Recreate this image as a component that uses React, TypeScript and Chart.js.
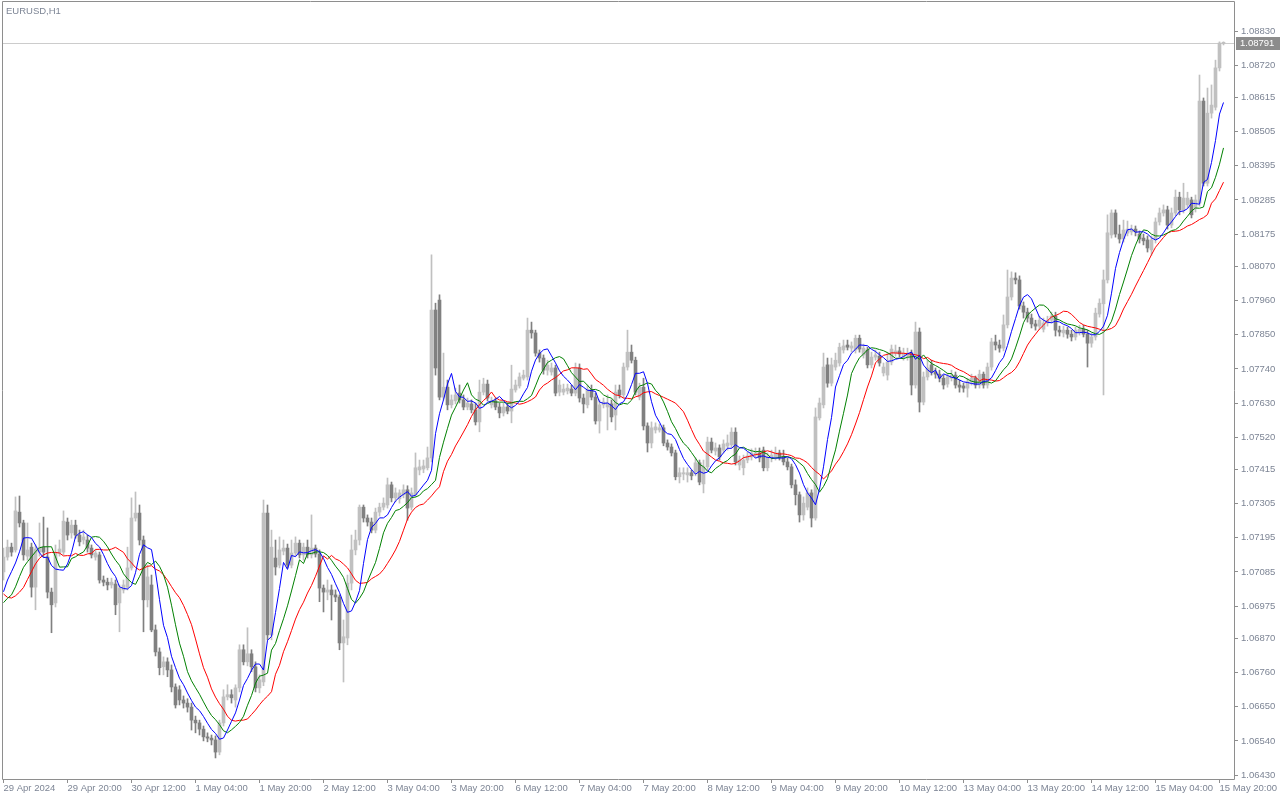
import React, { useEffect, useRef } from "react";
import { Chart, registerables } from "chart.js";

Chart.register(...registerables);

// ---- EURUSD H1 candles (29 Apr 2024 04:00 .. 15 May 2024 21:00) ----
const OPEN = [
  1.07085,1.07133,1.07165,1.07156,1.07278,1.07243,1.07136,1.07165,1.07036,1.07149,
  1.07165,1.07133,1.07020,1.06985,1.07146,1.07149,1.07246,1.07211,1.07236,1.07204,
  1.07188,1.07188,1.07162,1.07133,1.07140,1.07059,1.07052,1.07043,1.07046,1.06985,
  1.07027,1.07036,1.07098,1.07259,1.07275,1.07188,1.06995,1.07043,1.06898,1.06827,
  1.06779,1.06795,1.06769,1.06714,1.06705,1.06672,1.06662,1.06649,1.06607,1.06598,
  1.06578,1.06553,1.06549,1.06543,1.06504,1.06598,1.06682,1.06689,1.06672,1.06711,
  1.06834,1.06795,1.06821,1.06779,1.06711,1.06730,1.07275,1.06882,1.07130,1.07107,
  1.07152,1.07162,1.07107,1.07146,1.07178,1.07140,1.07165,1.07140,1.07162,1.07143,
  1.07033,1.07020,1.07027,1.07011,1.07004,1.06856,1.06872,1.07049,1.07156,1.07188,
  1.07294,1.07259,1.07246,1.07220,1.07278,1.07294,1.07301,1.07366,1.07324,1.07321,
  1.07334,1.07350,1.07294,1.07334,1.07414,1.07417,1.07421,1.07453,1.07930,1.07962,
  1.07649,1.07681,1.07624,1.07637,1.07662,1.07640,1.07617,1.07627,1.07608,1.07569,
  1.07665,1.07691,1.07624,1.07637,1.07617,1.07598,1.07617,1.07604,1.07672,1.07685,
  1.07710,1.07714,1.07865,1.07856,1.07791,1.07775,1.07736,1.07730,1.07743,1.07665,
  1.07665,1.07669,1.07675,1.07662,1.07743,1.07646,1.07624,1.07672,1.07649,1.07572,
  1.07624,1.07617,1.07627,1.07591,1.07672,1.07656,1.07746,1.07794,1.07768,1.07649,
  1.07681,1.07556,1.07501,1.07543,1.07543,1.07550,1.07501,1.07488,1.07469,1.07392,
  1.07401,1.07398,1.07405,1.07408,1.07437,1.07369,1.07424,1.07504,1.07475,1.07485,
  1.07478,1.07491,1.07495,1.07536,1.07430,1.07421,1.07446,1.07456,1.07462,1.07469,
  1.07478,1.07421,1.07453,1.07456,1.07469,1.07456,1.07440,1.07424,1.07366,1.07334,
  1.07269,1.07294,1.07340,1.07259,1.07582,1.07624,1.07753,1.07694,1.07746,1.07759,
  1.07801,1.07817,1.07807,1.07801,1.07839,1.07785,1.07801,1.07753,1.07778,1.07781,
  1.07727,1.07720,1.07762,1.07791,1.07798,1.07778,1.07781,1.07791,1.07688,1.07859,
  1.07633,1.07714,1.07753,1.07730,1.07723,1.07710,1.07691,1.07710,1.07720,1.07688,
  1.07685,1.07678,1.07698,1.07710,1.07688,1.07723,1.07688,1.07746,1.07827,1.07817,
  1.07807,1.07882,1.07972,1.08033,1.08027,1.07943,1.07923,1.07904,1.07885,1.07878,
  1.07868,1.07888,1.07897,1.07910,1.07865,1.07856,1.07865,1.07852,1.07843,1.07859,
  1.07868,1.07852,1.07823,1.07843,1.07917,1.07950,1.08027,1.08172,1.08243,1.08175,
  1.08159,1.08178,1.08182,1.08191,1.08175,1.08162,1.08156,1.08124,1.08156,1.08214,
  1.08243,1.08253,1.08204,1.08243,1.08294,1.08253,1.08269,1.08285,1.08259,1.08275,
  1.08604,1.08339,1.08565,1.08584,1.08711,1.08790
];
const HIGH = [
  1.07162,1.07188,1.07178,1.07327,1.07330,1.07252,1.07243,1.07178,1.07172,1.07243,
  1.07262,1.07227,1.07033,1.07172,1.07188,1.07282,1.07259,1.07252,1.07252,1.07220,
  1.07220,1.07204,1.07172,1.07156,1.07149,1.07072,1.07065,1.07065,1.07059,1.07043,
  1.07059,1.07165,1.07324,1.07343,1.07301,1.07201,1.07107,1.07075,1.06914,1.06840,
  1.06811,1.06808,1.06785,1.06724,1.06718,1.06685,1.06676,1.06662,1.06620,1.06607,
  1.06588,1.06566,1.06559,1.06556,1.06607,1.06705,1.06721,1.06705,1.06721,1.06850,
  1.06850,1.06905,1.06834,1.06795,1.06753,1.07317,1.07301,1.07220,1.07188,1.07198,
  1.07188,1.07175,1.07188,1.07198,1.07188,1.07178,1.07188,1.07269,1.07172,1.07156,
  1.07043,1.07059,1.07043,1.07027,1.07011,1.06930,1.07075,1.07204,1.07220,1.07301,
  1.07301,1.07269,1.07259,1.07291,1.07307,1.07324,1.07388,1.07375,1.07356,1.07350,
  1.07366,1.07363,1.07356,1.07469,1.07446,1.07446,1.07488,1.08108,1.07952,1.07979,
  1.07791,1.07704,1.07656,1.07678,1.07688,1.07656,1.07646,1.07640,1.07630,1.07704,
  1.07710,1.07704,1.07649,1.07646,1.07630,1.07630,1.07630,1.07752,1.07704,1.07727,
  1.07736,1.07904,1.07891,1.07865,1.07801,1.07785,1.07768,1.07759,1.07752,1.07704,
  1.07691,1.07691,1.07688,1.07759,1.07756,1.07659,1.07688,1.07688,1.07662,1.07640,
  1.07646,1.07656,1.07640,1.07688,1.07688,1.07759,1.07865,1.07817,1.07778,1.07694,
  1.07710,1.07566,1.07569,1.07566,1.07562,1.07559,1.07511,1.07498,1.07478,1.07421,
  1.07421,1.07421,1.07414,1.07453,1.07446,1.07446,1.07520,1.07517,1.07501,1.07495,
  1.07511,1.07527,1.07550,1.07550,1.07459,1.07462,1.07472,1.07482,1.07485,1.07485,
  1.07488,1.07469,1.07478,1.07488,1.07478,1.07478,1.07453,1.07433,1.07382,1.07343,
  1.07327,1.07356,1.07350,1.07614,1.07646,1.07791,1.07775,1.07775,1.07791,1.07823,
  1.07833,1.07833,1.07827,1.07849,1.07849,1.07820,1.07810,1.07794,1.07801,1.07794,
  1.07759,1.07794,1.07817,1.07817,1.07810,1.07807,1.07807,1.07801,1.07891,1.07872,
  1.07730,1.07768,1.07768,1.07743,1.07736,1.07720,1.07727,1.07736,1.07730,1.07704,
  1.07694,1.07710,1.07723,1.07717,1.07736,1.07730,1.07759,1.07839,1.07849,1.07833,
  1.07914,1.08059,1.08053,1.08050,1.08040,1.07956,1.07936,1.07917,1.07897,1.07910,
  1.07904,1.07910,1.07923,1.07923,1.07878,1.07878,1.07875,1.07865,1.07875,1.07881,
  1.07881,1.07865,1.07856,1.07936,1.07966,1.08059,1.08237,1.08253,1.08253,1.08204,
  1.08220,1.08217,1.08204,1.08201,1.08185,1.08175,1.08169,1.08169,1.08227,1.08259,
  1.08269,1.08265,1.08259,1.08317,1.08310,1.08339,1.08310,1.08294,1.08301,1.08688,
  1.08614,1.08646,1.08656,1.08736,1.08795,1.08795
];
const LOW = [
  1.07059,1.07123,1.07136,1.07149,1.07230,1.07123,1.07123,1.07004,1.06963,1.07136,
  1.07133,1.07001,1.06889,1.06972,1.07136,1.07140,1.07188,1.07194,1.07194,1.07169,
  1.07175,1.07149,1.07130,1.07123,1.07049,1.07040,1.07027,1.07033,1.06947,1.06892,
  1.07017,1.07027,1.07091,1.07249,1.07172,1.06892,1.06972,1.06892,1.06814,1.06753,
  1.06753,1.06747,1.06698,1.06646,1.06656,1.06646,1.06633,1.06575,1.06566,1.06559,
  1.06540,1.06537,1.06527,1.06485,1.06495,1.06588,1.06672,1.06662,1.06649,1.06698,
  1.06785,1.06782,1.06763,1.06698,1.06695,1.06718,1.06866,1.06866,1.07075,1.07098,
  1.07140,1.07098,1.07098,1.07136,1.07130,1.07123,1.07130,1.07130,1.07133,1.06989,
  1.06956,1.06995,1.06930,1.06989,1.06834,1.06730,1.06850,1.07027,1.07140,1.07172,
  1.07246,1.07233,1.07211,1.07211,1.07265,1.07285,1.07291,1.07311,1.07311,1.07307,
  1.07324,1.07252,1.07285,1.07327,1.07398,1.07405,1.07414,1.07440,1.07720,1.07640,
  1.07640,1.07608,1.07614,1.07627,1.07630,1.07608,1.07608,1.07598,1.07559,1.07537,
  1.07656,1.07637,1.07614,1.07608,1.07582,1.07588,1.07595,1.07566,1.07665,1.07678,
  1.07704,1.07704,1.07839,1.07781,1.07762,1.07723,1.07720,1.07720,1.07653,1.07653,
  1.07656,1.07659,1.07653,1.07653,1.07633,1.07598,1.07614,1.07640,1.07562,1.07533,
  1.07614,1.07543,1.07569,1.07543,1.07646,1.07646,1.07736,1.07759,1.07656,1.07640,
  1.07543,1.07472,1.07485,1.07533,1.07536,1.07492,1.07478,1.07459,1.07382,1.07372,
  1.07382,1.07375,1.07382,1.07395,1.07366,1.07340,1.07414,1.07469,1.07462,1.07446,
  1.07469,1.07478,1.07485,1.07430,1.07414,1.07398,1.07437,1.07446,1.07453,1.07440,
  1.07411,1.07411,1.07440,1.07446,1.07446,1.07430,1.07414,1.07356,1.07301,1.07246,
  1.07252,1.07285,1.07230,1.07252,1.07575,1.07614,1.07681,1.07685,1.07736,1.07749,
  1.07791,1.07801,1.07794,1.07791,1.07794,1.07775,1.07743,1.07743,1.07768,1.07749,
  1.07717,1.07704,1.07753,1.07781,1.07778,1.07768,1.07768,1.07656,1.07678,1.07601,
  1.07624,1.07704,1.07720,1.07710,1.07698,1.07675,1.07681,1.07701,1.07678,1.07665,
  1.07665,1.07649,1.07688,1.07678,1.07678,1.07678,1.07678,1.07736,1.07801,1.07794,
  1.07798,1.07872,1.07962,1.08014,1.07933,1.07904,1.07891,1.07872,1.07865,1.07868,
  1.07859,1.07878,1.07888,1.07846,1.07846,1.07843,1.07839,1.07830,1.07833,1.07849,
  1.07843,1.07746,1.07810,1.07833,1.07907,1.07656,1.08017,1.08162,1.08165,1.08146,
  1.08149,1.08169,1.08172,1.08169,1.08146,1.08140,1.08117,1.08107,1.08146,1.08204,
  1.08233,1.08191,1.08195,1.08233,1.08237,1.08243,1.08259,1.08227,1.08246,1.08265,
  1.08330,1.08330,1.08549,1.08575,1.08701,1.08785
];
const CLOSE = [
  1.07133,1.07165,1.07149,1.07282,1.07243,1.07140,1.07156,1.07036,1.07159,1.07165,
  1.07149,1.07020,1.06979,1.07146,1.07159,1.07249,1.07204,1.07236,1.07204,1.07182,
  1.07198,1.07162,1.07140,1.07146,1.07059,1.07052,1.07043,1.07052,1.06979,1.07033,
  1.07043,1.07098,1.07259,1.07275,1.07188,1.06995,1.07069,1.06898,1.06827,1.06776,
  1.06795,1.06769,1.06714,1.06656,1.06672,1.06662,1.06649,1.06607,1.06598,1.06578,
  1.06553,1.06549,1.06543,1.06504,1.06598,1.06682,1.06689,1.06679,1.06711,1.06834,
  1.06795,1.06821,1.06779,1.06711,1.06737,1.07275,1.06882,1.07165,1.07101,1.07156,
  1.07162,1.07107,1.07146,1.07178,1.07140,1.07165,1.07140,1.07162,1.07143,1.07033,
  1.07020,1.07027,1.07011,1.07004,1.06856,1.06876,1.07049,1.07156,1.07188,1.07294,
  1.07259,1.07246,1.07220,1.07278,1.07294,1.07307,1.07366,1.07324,1.07340,1.07340,
  1.07350,1.07291,1.07340,1.07421,1.07424,1.07427,1.07453,1.07930,1.07743,1.07649,
  1.07681,1.07624,1.07640,1.07656,1.07640,1.07617,1.07630,1.07608,1.07569,1.07665,
  1.07691,1.07646,1.07637,1.07617,1.07598,1.07617,1.07604,1.07675,1.07688,1.07714,
  1.07720,1.07865,1.07856,1.07791,1.07775,1.07736,1.07752,1.07743,1.07662,1.07688,
  1.07675,1.07678,1.07662,1.07743,1.07646,1.07627,1.07672,1.07649,1.07572,1.07624,
  1.07633,1.07630,1.07585,1.07665,1.07656,1.07746,1.07794,1.07768,1.07665,1.07681,
  1.07556,1.07501,1.07550,1.07553,1.07550,1.07501,1.07488,1.07469,1.07392,1.07405,
  1.07405,1.07405,1.07395,1.07437,1.07375,1.07424,1.07504,1.07478,1.07485,1.07456,
  1.07498,1.07501,1.07536,1.07440,1.07446,1.07446,1.07459,1.07469,1.07469,1.07453,
  1.07421,1.07456,1.07462,1.07469,1.07456,1.07440,1.07424,1.07366,1.07334,1.07269,
  1.07307,1.07340,1.07259,1.07585,1.07630,1.07746,1.07694,1.07753,1.07768,1.07810,
  1.07814,1.07810,1.07814,1.07839,1.07804,1.07807,1.07753,1.07778,1.07785,1.07759,
  1.07746,1.07762,1.07804,1.07798,1.07788,1.07791,1.07791,1.07688,1.07859,1.07633,
  1.07714,1.07743,1.07730,1.07723,1.07710,1.07688,1.07714,1.07720,1.07688,1.07681,
  1.07678,1.07698,1.07710,1.07688,1.07723,1.07688,1.07746,1.07827,1.07817,1.07807,
  1.07882,1.07972,1.08033,1.08027,1.07943,1.07923,1.07904,1.07885,1.07878,1.07897,
  1.07888,1.07897,1.07910,1.07865,1.07859,1.07865,1.07852,1.07843,1.07865,1.07868,
  1.07852,1.07823,1.07843,1.07920,1.07952,1.08027,1.08179,1.08243,1.08175,1.08159,
  1.08188,1.08191,1.08191,1.08182,1.08159,1.08153,1.08130,1.08156,1.08214,1.08243,
  1.08253,1.08204,1.08243,1.08294,1.08253,1.08291,1.08291,1.08237,1.08285,1.08604,
  1.08339,1.08565,1.08591,1.08711,1.08791,1.08791
];

// Moving-average lines: values at the left edge (history before the window)
const BLUE_HEAD = [1.07021, 1.07059, 1.07086, 1.07114, 1.0715];
const GREEN_HEAD = [1.06986, 1.07, 1.07011, 1.07037, 1.0707, 1.071, 1.07118, 1.07134, 1.0715];
const RED_HEAD = [1.07014, 1.07003, 1.07001, 1.07008, 1.0702, 1.07035, 1.07061, 1.07086, 1.07111, 1.07129, 1.0714, 1.07146, 1.07148, 1.07148, 1.07146];
const BLUE_PERIOD = 5, BLUE_SHIFT = 1;
const GREEN_PERIOD = 8, GREEN_SHIFT = 2;
const RED_PERIOD = 13, RED_SHIFT = 3;

const X_TICK_LABELS = [
  "29 Apr 2024", "29 Apr 20:00", "30 Apr 12:00", "1 May 04:00", "1 May 20:00",
  "2 May 12:00", "3 May 04:00", "3 May 20:00", "6 May 12:00", "7 May 04:00",
  "7 May 20:00", "8 May 12:00", "9 May 04:00", "9 May 20:00", "10 May 12:00",
  "13 May 04:00", "13 May 20:00", "14 May 12:00", "15 May 04:00", "15 May 20:00"
];
const X_TICK_STEP = 16;
const Y_TICKS = [
  1.0643, 1.0654, 1.0665, 1.0676, 1.0687, 1.06975, 1.07085, 1.07195, 1.07305, 1.07415,
  1.0752, 1.0763, 1.0774, 1.0785, 1.0796, 1.0807, 1.08175, 1.08285, 1.08395, 1.08505,
  1.08615, 1.0872, 1.0883
];
const LAST_PRICE = 1.08791;
const SYMBOL_TITLE = "EURUSD,H1";

// axis ranges
const X_MIN = -0.375, X_MAX = 307.625;
const Y_MIN = 1.064171, Y_MAX = 1.0892355;

const FONT = '"Liberation Sans", Arial, sans-serif';
const TEXT_COLOR = "#7d8595";
const AXIS_COLOR = "#8e8e8e";
const BULL = "#c0c0c0";
const BEAR = "#808080";

function movingAverage(closes: number[], period: number, shift: number, head: number[]) {
  return closes.map((_, k) => {
    if (k < head.length) return head[k];
    const end = k - shift;
    let s = 0;
    for (let j = end - period + 1; j <= end; j++) s += closes[j];
    return s / period;
  });
}

export default function App() {
  const ref = useRef<HTMLCanvasElement | null>(null);
  useEffect(() => {
    document.body.style.margin = "0";
    const canvas = ref.current!;
    const idx = CLOSE.map((_, i) => i);
    const colors = idx.map((i) => (CLOSE[i] >= OPEN[i] ? BULL : BEAR));
    const blue = movingAverage(CLOSE, BLUE_PERIOD, BLUE_SHIFT, BLUE_HEAD);
    const green = movingAverage(CLOSE, GREEN_PERIOD, GREEN_SHIFT, GREEN_HEAD);
    const red = movingAverage(CLOSE, RED_PERIOD, RED_SHIFT, RED_HEAD);
    const line = (vals: number[], color: string) => ({
      type: "line" as const,
      data: vals.map((v, i) => ({ x: i, y: v })),
      borderColor: color,
      borderWidth: 1,
      pointRadius: 0,
      tension: 0,
      fill: false,
    });

    const overlay = {
      id: "mt4overlay",
      beforeDatasetsDraw(chart: any) {
        const { ctx, chartArea: a, scales } = chart;
        const py = Math.round(scales.y.getPixelForValue(LAST_PRICE)) + 0.5;
        ctx.save();
        ctx.strokeStyle = "#cccccc";
        ctx.lineWidth = 1;
        ctx.beginPath();
        ctx.moveTo(a.left, py);
        ctx.lineTo(a.right, py);
        ctx.stroke();
        ctx.restore();
      },
      afterDraw(chart: any) {
        const { ctx, chartArea: a, scales } = chart;
        ctx.save();
        ctx.strokeStyle = AXIS_COLOR;
        ctx.lineWidth = 1;
        ctx.beginPath();
        ctx.moveTo(a.left + 0.5, a.bottom + 0.5);
        ctx.lineTo(a.left + 0.5, a.top - 0.5);
        ctx.lineTo(a.right + 0.5, a.top - 0.5);
        ctx.lineTo(a.right + 0.5, a.bottom + 0.5);
        ctx.lineTo(a.left + 0.5, a.bottom + 0.5);
        ctx.stroke();
        // last price box
        const py = Math.round(scales.y.getPixelForValue(LAST_PRICE));
        ctx.fillStyle = "#8c8c8c";
        ctx.fillRect(a.right + 2, py - 6, 44, 13);
        ctx.fillStyle = "#ffffff";
        ctx.font = `9.5px ${FONT}`;
        ctx.textBaseline = "middle";
        ctx.textAlign = "left";
        ctx.fillText(LAST_PRICE.toFixed(5), a.right + 6, py + 0.5);
        // symbol title
        ctx.fillStyle = TEXT_COLOR;
        ctx.font = `9.5px ${FONT}`;
        ctx.fillText(SYMBOL_TITLE, 6, 11.5);
        ctx.restore();
      },
    };

    const chart = new Chart(canvas, {
      type: "bar",
      data: {
        datasets: [
          line(blue, "#0000ff"),
          line(green, "#008000"),
          line(red, "#ff0000"),
          {
            type: "bar",
            data: idx.map((i) => ({ x: i, y: [OPEN[i], CLOSE[i]] })),
            backgroundColor: colors,
            barThickness: 3,
            grouped: false,
            minBarLength: 1,
            borderWidth: 0,
          } as any,
          {
            type: "bar",
            data: idx.map((i) => ({ x: i, y: [LOW[i], HIGH[i]] })),
            backgroundColor: colors,
            barThickness: 1,
            grouped: false,
            borderWidth: 0,
          } as any,
        ],
      },
      options: {
        animation: false,
        responsive: false,
        maintainAspectRatio: false,
        devicePixelRatio: 1,
        events: [],
        layout: { padding: { left: 2, top: 2, right: 0, bottom: 0 } },
        plugins: { legend: { display: false }, tooltip: { enabled: false } },
        scales: {
          x: {
            type: "linear",
            min: X_MIN,
            max: X_MAX,
            offset: false,
            bounds: "data",
            grid: { drawOnChartArea: false, drawTicks: true, tickLength: 4, color: AXIS_COLOR, offset: false },
            border: { display: false },
            ticks: {
              autoSkip: false,
              maxRotation: 0,
              minRotation: 0,
              align: "start",
              padding: 0,
              color: TEXT_COLOR,
              font: { family: FONT, size: 9.5 },
              callback: (v: any) => X_TICK_LABELS[Math.round(Number(v) / X_TICK_STEP)] ?? "",
            },
            afterBuildTicks: (s: any) => {
              s.ticks = X_TICK_LABELS.map((_, j) => ({ value: j * X_TICK_STEP }));
            },
            afterFit: (s: any) => {
              s.height = 21;
              s.paddingLeft = 0;
              s.paddingRight = 0;
            },
          },
          y: {
            type: "linear",
            position: "right",
            min: Y_MIN,
            max: Y_MAX,
            bounds: "data",
            beginAtZero: false,
            grid: { drawOnChartArea: false, drawTicks: true, tickLength: 4, color: AXIS_COLOR },
            border: { display: false },
            ticks: {
              padding: 3,
              color: TEXT_COLOR,
              font: { family: FONT, size: 9.5 },
              callback: (v: any) => Number(v).toFixed(5),
            },
            afterBuildTicks: (s: any) => {
              s.ticks = Y_TICKS.map((v) => ({ value: v }));
            },
            afterFit: (s: any) => {
              s.width = 46;
              s.paddingTop = 0;
              s.paddingBottom = 0;
            },
          },
        },
      } as any,
      plugins: [overlay],
    });
    return () => chart.destroy();
  }, []);
  return <canvas ref={ref} width={1280} height={800} style={{ display: "block" }} />;
}
